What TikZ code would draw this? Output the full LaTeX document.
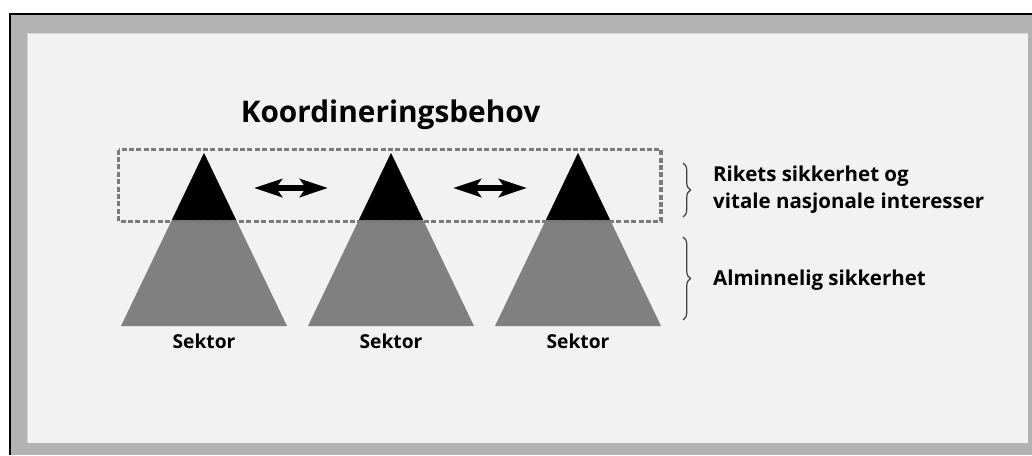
\documentclass[tikz,border=0pt]{standalone}
\usepackage{fontspec}
\setmainfont{Open Sans}
\usetikzlibrary{arrows.meta,decorations.pathreplacing}
\definecolor{framegray}{HTML}{B3B3B3}
\definecolor{panelgray}{HTML}{F2F2F2}
\definecolor{paneledge}{HTML}{D4D4D4}
\definecolor{sectorgray}{HTML}{808080}
\definecolor{boxgray}{HTML}{7A7A7A}
\definecolor{bracegray}{HTML}{404040}
\tikzset{
  sectorbody/.style={fill=sectorgray},
  sectortop/.style={fill=black},
  dashbox/.style={draw=boxgray, line width=3.6pt, dash pattern=on 5pt off 2.4pt},
  twoway/.style={line width=5.5pt, {Stealth[length=28pt,width=18pt,inset=6pt]}-{Stealth[length=28pt,width=18pt,inset=6pt]}},
  sidebrace/.style={draw=bracegray, line width=1.2pt, decorate,
    decoration={brace, amplitude=7.5pt}},
  sidelabel/.style={font=\bfseries\fontsize{20.5}{27}\selectfont, anchor=west, align=left, inner sep=0pt},
  sectorlabel/.style={font=\bfseries\fontsize{19.2}{22}\selectfont, inner sep=0pt},
}
\begin{document}
\begin{tikzpicture}[x=1pt,y=-1pt]
\useasboundingbox (0,0) rectangle (1032,455);
\fill[white] (0,0) rectangle (1032,455);
% outer frame with its dark top and left edge
\fill[framegray] (9,13) rectangle (1032,455);
\draw[black, line width=1.6pt] (9.8,455) -- (9.8,13.8) -- (1032,13.8);
% inner panel
\fill[panelgray] (27,33) rectangle (1028,443);
\draw[paneledge, line width=1pt] (27.5,443) -- (27.5,33.5) -- (1028,33.5);

% the three sectors: grey body, black tip
\foreach \c/\n in {204/1, 391/2, 578/3}{
  \fill[sectorbody] (\c-83,326) -- (\c,153) -- (\c+83,326) -- cycle;
  \fill[sectortop] (\c,153) -- (\c-32.1,220) -- (\c+32.1,220) -- cycle;
  \node[sectorlabel] (sektor\n) at (\c,341) {Sektor};
}

% dashed frame round the black tips
\draw[dashbox] (118.5,149.5) rectangle (661,221.5);

% title
\node[font=\bfseries\fontsize{29.8}{34}\selectfont, inner sep=0pt] (title) at (390.5,115) {Koordineringsbehov};

% arrows between the tips
\coordinate (a1l) at (254,188);
\coordinate (a1r) at (328,188);
\coordinate (a2l) at (453,188);
\coordinate (a2r) at (527,188);
\draw[twoway] (a1l) -- (a1r);
\draw[twoway] (a2l) -- (a2r);

% braces and their labels
\coordinate (b1t) at (683,163);
\coordinate (b1b) at (683,217);
\coordinate (b2t) at (683,237);
\coordinate (b2b) at (683,320);
\draw[sidebrace] (b1t) -- (b1b);
\draw[sidebrace] (b2t) -- (b2b);
\node[sidelabel] (upper) at (713,190) {Rikets sikkerhet og\\vitale nasjonale interesser};
\node[sidelabel] (lower) at (713,280) {Alminnelig sikkerhet};
\end{tikzpicture}
\end{document}
